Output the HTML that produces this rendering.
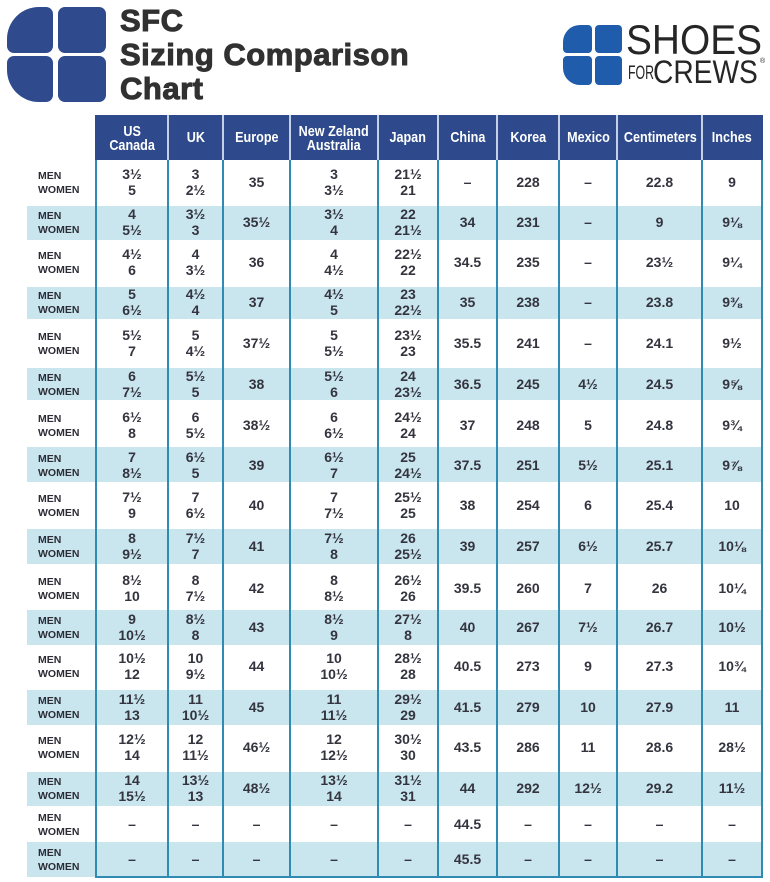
<!DOCTYPE html>
<html><head><meta charset="utf-8">
<style>
*{box-sizing:border-box}
body{margin:0;width:770px;height:882px;background:#fff;position:relative;overflow:hidden;font-family:"Liberation Sans",sans-serif}
.q{position:absolute;background:#2f4b8e}
.q2{position:absolute;background:#1f5cab}
.tt{position:absolute;left:120px;font:bold 31px/34px "Liberation Sans",sans-serif;color:#313131;white-space:nowrap;letter-spacing:.5px;-webkit-text-stroke:1px #313131}
.lg{position:absolute;white-space:nowrap;color:#262626;transform-origin:0 0;font-family:"Liberation Sans",sans-serif}
.bd{position:absolute;left:27px;width:735px;background:#c9e6ef}
.v{position:absolute;top:160px;height:718px;width:2px;background:#2f8bb2}
.hv{position:absolute;top:115px;height:45px;width:2px;background:#c3d0e6}
#hb{position:absolute;left:95px;top:115px;width:668px;height:45px;background:#2e4a8c}
.hd{position:absolute;left:0;top:115px;width:770px;height:45px}
.hd span{position:absolute;top:0;height:45px;font:bold 15px "Liberation Sans",sans-serif;line-height:46px;text-align:center;color:#fff}
.hd span.t{line-height:14px;padding-top:10px}
.hd em{font-style:normal;display:inline-block;transform:scaleX(.84)}
.r{position:absolute;left:0;width:770px;height:40px}
.r span{position:absolute;top:0;height:40px;font:bold 14px "Liberation Sans",sans-serif;line-height:40px;text-align:center;color:#34343f;white-space:nowrap}
.r span.t{line-height:16px;padding-top:4px}
.r span.l{left:38px;text-align:left;font-size:10.5px;line-height:14px;padding-top:7px;color:#2c2c36}
.a{left:96px;width:72px}.b{left:168px;width:55px}.c{left:223px;width:67px}.d{left:290px;width:88px}.e{left:378px;width:60px}
.f{left:438px;width:59px}.g{left:497px;width:62px}.h{left:559px;width:58px}.i{left:617px;width:85px}.j{left:702px;width:60px}
</style></head><body>

<!-- left logo -->
<div class="q" style="left:7px;top:7px;width:46px;height:46px;border-radius:32px 7px 7px 7px"></div>
<div class="q" style="left:58px;top:7px;width:48px;height:46px;border-radius:7px"></div>
<div class="q" style="left:7px;top:56px;width:46px;height:46px;border-radius:7px 7px 7px 32px"></div>
<div class="q" style="left:58px;top:56px;width:48px;height:46px;border-radius:7px"></div>

<div class="tt" style="top:4px">SFC</div>
<div class="tt" style="top:38px">Sizing Comparison</div>
<div class="tt" style="top:72px">Chart</div>

<!-- right logo -->
<div class="q2" style="left:563px;top:25px;width:29px;height:28px;border-radius:17px 4px 4px 4px"></div>
<div class="q2" style="left:595px;top:25px;width:27px;height:28px;border-radius:4px"></div>
<div class="q2" style="left:563px;top:56px;width:29px;height:29px;border-radius:4px 4px 4px 17px"></div>
<div class="q2" style="left:595px;top:56px;width:27px;height:29px;border-radius:4px"></div>
<div class="lg" style="left:626px;top:19px;font-size:42px;line-height:42px;transform:scaleX(.925)">SHOES</div>
<div class="lg" style="left:628px;top:64px;font-size:19px;line-height:19px;transform:scaleX(.65)">FOR</div>
<div class="lg" style="left:653px;top:56px;font-size:32px;line-height:32px;transform:scaleX(.88)">CREWS</div>
<div class="lg" style="left:760px;top:58px;font-size:7px;line-height:7px">®</div>

<!-- bands -->
<div class="bd" style="top:206px;height:34px"></div>
<div class="bd" style="top:287px;height:32px"></div>
<div class="bd" style="top:368px;height:32px"></div>
<div class="bd" style="top:447px;height:35px"></div>
<div class="bd" style="top:529px;height:35px"></div>
<div class="bd" style="top:610px;height:35px"></div>
<div class="bd" style="top:690px;height:35px"></div>
<div class="bd" style="top:772px;height:34px"></div>
<div class="bd" style="top:842px;height:35px"></div>

<!-- header -->
<div id="hb"></div>
<div class="hv" style="left:167px"></div><div class="hv" style="left:222px"></div><div class="hv" style="left:289px"></div>
<div class="hv" style="left:377px"></div><div class="hv" style="left:437px"></div><div class="hv" style="left:496px"></div>
<div class="hv" style="left:558px"></div><div class="hv" style="left:616px"></div><div class="hv" style="left:701px"></div>
<div class="hd">
<span class="a t"><em>US<br>Canada</em></span>
<span class="b"><em>UK</em></span>
<span class="c"><em>Europe</em></span>
<span class="d t"><em>New Zeland<br>Australia</em></span>
<span class="e"><em>Japan</em></span>
<span class="f"><em>China</em></span>
<span class="g"><em>Korea</em></span>
<span class="h"><em>Mexico</em></span>
<span class="i"><em>Centimeters</em></span>
<span class="j"><em>Inches</em></span>
</div>

<!-- vertical lines -->
<div class="v" style="left:95px"></div><div class="v" style="left:167px"></div><div class="v" style="left:222px"></div>
<div class="v" style="left:289px"></div><div class="v" style="left:377px"></div><div class="v" style="left:437px"></div>
<div class="v" style="left:496px"></div><div class="v" style="left:558px"></div><div class="v" style="left:616px"></div>
<div class="v" style="left:701px"></div><div class="v" style="left:761px"></div>
<div style="position:absolute;left:95px;top:876px;width:668px;height:2px;background:#2f8bb2"></div>

<!-- rows -->
<div class="r" style="top:162px"><span class="l">MEN<br>WOMEN</span><span class="a t">3½<br>5</span><span class="b t">3<br>2½</span><span class="c">35</span><span class="d t">3<br>3½</span><span class="e t">21½<br>21</span><span class="f">–</span><span class="g">228</span><span class="h">–</span><span class="i">22.8</span><span class="j">9</span></div>
<div class="r" style="top:202px"><span class="l">MEN<br>WOMEN</span><span class="a t">4<br>5½</span><span class="b t">3½<br>3</span><span class="c">35½</span><span class="d t">3½<br>4</span><span class="e t">22<br>21½</span><span class="f">34</span><span class="g">231</span><span class="h">–</span><span class="i">9</span><span class="j">9⅛</span></div>
<div class="r" style="top:242px"><span class="l">MEN<br>WOMEN</span><span class="a t">4½<br>6</span><span class="b t">4<br>3½</span><span class="c">36</span><span class="d t">4<br>4½</span><span class="e t">22½<br>22</span><span class="f">34.5</span><span class="g">235</span><span class="h">–</span><span class="i">23½</span><span class="j">9¼</span></div>
<div class="r" style="top:282px"><span class="l">MEN<br>WOMEN</span><span class="a t">5<br>6½</span><span class="b t">4½<br>4</span><span class="c">37</span><span class="d t">4½<br>5</span><span class="e t">23<br>22½</span><span class="f">35</span><span class="g">238</span><span class="h">–</span><span class="i">23.8</span><span class="j">9⅜</span></div>
<div class="r" style="top:323px"><span class="l">MEN<br>WOMEN</span><span class="a t">5½<br>7</span><span class="b t">5<br>4½</span><span class="c">37½</span><span class="d t">5<br>5½</span><span class="e t">23½<br>23</span><span class="f">35.5</span><span class="g">241</span><span class="h">–</span><span class="i">24.1</span><span class="j">9½</span></div>
<div class="r" style="top:364px"><span class="l">MEN<br>WOMEN</span><span class="a t">6<br>7½</span><span class="b t">5½<br>5</span><span class="c">38</span><span class="d t">5½<br>6</span><span class="e t">24<br>23½</span><span class="f">36.5</span><span class="g">245</span><span class="h">4½</span><span class="i">24.5</span><span class="j">9⅝</span></div>
<div class="r" style="top:405px"><span class="l">MEN<br>WOMEN</span><span class="a t">6½<br>8</span><span class="b t">6<br>5½</span><span class="c">38½</span><span class="d t">6<br>6½</span><span class="e t">24½<br>24</span><span class="f">37</span><span class="g">248</span><span class="h">5</span><span class="i">24.8</span><span class="j">9¾</span></div>
<div class="r" style="top:445px"><span class="l">MEN<br>WOMEN</span><span class="a t">7<br>8½</span><span class="b t">6½<br>5</span><span class="c">39</span><span class="d t">6½<br>7</span><span class="e t">25<br>24½</span><span class="f">37.5</span><span class="g">251</span><span class="h">5½</span><span class="i">25.1</span><span class="j">9⅞</span></div>
<div class="r" style="top:485px"><span class="l">MEN<br>WOMEN</span><span class="a t">7½<br>9</span><span class="b t">7<br>6½</span><span class="c">40</span><span class="d t">7<br>7½</span><span class="e t">25½<br>25</span><span class="f">38</span><span class="g">254</span><span class="h">6</span><span class="i">25.4</span><span class="j">10</span></div>
<div class="r" style="top:526px"><span class="l">MEN<br>WOMEN</span><span class="a t">8<br>9½</span><span class="b t">7½<br>7</span><span class="c">41</span><span class="d t">7½<br>8</span><span class="e t">26<br>25½</span><span class="f">39</span><span class="g">257</span><span class="h">6½</span><span class="i">25.7</span><span class="j">10⅛</span></div>
<div class="r" style="top:568px"><span class="l">MEN<br>WOMEN</span><span class="a t">8½<br>10</span><span class="b t">8<br>7½</span><span class="c">42</span><span class="d t">8<br>8½</span><span class="e t">26½<br>26</span><span class="f">39.5</span><span class="g">260</span><span class="h">7</span><span class="i">26</span><span class="j">10¼</span></div>
<div class="r" style="top:607px"><span class="l">MEN<br>WOMEN</span><span class="a t">9<br>10½</span><span class="b t">8½<br>8</span><span class="c">43</span><span class="d t">8½<br>9</span><span class="e t">27½<br>8</span><span class="f">40</span><span class="g">267</span><span class="h">7½</span><span class="i">26.7</span><span class="j">10½</span></div>
<div class="r" style="top:646px"><span class="l">MEN<br>WOMEN</span><span class="a t">10½<br>12</span><span class="b t">10<br>9½</span><span class="c">44</span><span class="d t">10<br>10½</span><span class="e t">28½<br>28</span><span class="f">40.5</span><span class="g">273</span><span class="h">9</span><span class="i">27.3</span><span class="j">10¾</span></div>
<div class="r" style="top:687px"><span class="l">MEN<br>WOMEN</span><span class="a t">11½<br>13</span><span class="b t">11<br>10½</span><span class="c">45</span><span class="d t">11<br>11½</span><span class="e t">29½<br>29</span><span class="f">41.5</span><span class="g">279</span><span class="h">10</span><span class="i">27.9</span><span class="j">11</span></div>
<div class="r" style="top:727px"><span class="l">MEN<br>WOMEN</span><span class="a t">12½<br>14</span><span class="b t">12<br>11½</span><span class="c">46½</span><span class="d t">12<br>12½</span><span class="e t">30½<br>30</span><span class="f">43.5</span><span class="g">286</span><span class="h">11</span><span class="i">28.6</span><span class="j">28½</span></div>
<div class="r" style="top:768px"><span class="l">MEN<br>WOMEN</span><span class="a t">14<br>15½</span><span class="b t">13½<br>13</span><span class="c">48½</span><span class="d t">13½<br>14</span><span class="e t">31½<br>31</span><span class="f">44</span><span class="g">292</span><span class="h">12½</span><span class="i">29.2</span><span class="j">11½</span></div>
<div class="r" style="top:804px"><span class="l">MEN<br>WOMEN</span><span class="a">–</span><span class="b">–</span><span class="c">–</span><span class="d">–</span><span class="e">–</span><span class="f">44.5</span><span class="g">–</span><span class="h">–</span><span class="i">–</span><span class="j">–</span></div>
<div class="r" style="top:839px"><span class="l">MEN<br>WOMEN</span><span class="a">–</span><span class="b">–</span><span class="c">–</span><span class="d">–</span><span class="e">–</span><span class="f">45.5</span><span class="g">–</span><span class="h">–</span><span class="i">–</span><span class="j">–</span></div>

</body></html>
